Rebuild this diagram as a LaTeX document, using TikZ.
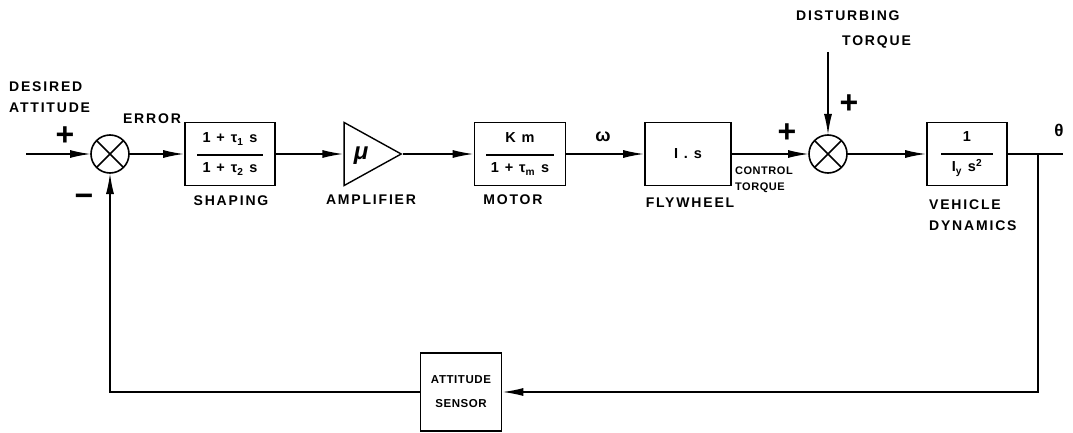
\documentclass[tikz,border=0pt]{standalone}
\usepackage{fontspec}
\setmainfont[LetterSpace=13]{Liberation Sans}
\newfontfamily\narrowfont[LetterSpace=5]{Liberation Sans}
\usetikzlibrary{arrows.meta, shapes.geometric, positioning}

% fraction inside a block: width of bar, numerator, denominator
\newcommand{\blkfrac}[3]{#2\\[-4pt]\rule{#1}{1.6pt}\\[0pt]#3}

\begin{document}
\begin{tikzpicture}[x=1pt, y=-1pt, line width=1.6pt,
  block/.style={draw, minimum height=63pt, inner sep=2pt, align=center, font=\fontsize{14.5}{17}\selectfont\bfseries},
  sumjn/.style={draw, circle, minimum size=38pt, inner sep=0pt, outer sep=0pt},
  amp/.style={draw, isosceles triangle, isosceles triangle stretches, minimum height=57pt, minimum width=63pt, inner sep=0pt, line width=1.4pt},
  lbl/.style={font=\fontsize{14}{21}\selectfont\bfseries},
  smlbl/.style={font=\narrowfont\fontsize{11}{16}\selectfont\bfseries},
  sign/.style={font=\fontsize{32}{32}\selectfont\bfseries, inner sep=0pt},
  sig/.style={-{Latex[length=21pt,width=8pt]}},
]
\useasboundingbox (0,0) rectangle (1073,433);

% Forward path
\coordinate (in) at (26,154);
\node[sumjn] (s1) at (110,154) {};
\draw (s1.north east) -- (s1.south west) (s1.north west) -- (s1.south east);
\node[block, minimum width=90pt] (shaping) at (230,154)
  {\blkfrac{66pt}{1 + τ\textsubscript{1} s}{1 + τ\textsubscript{2} s}};
\node[amp, anchor=apex] (amp) at (403,154) {};
\node[font=\fontsize{24}{24}\selectfont\bfseries\itshape] (mu) at (361,156) {μ};
\node[block, minimum width=91pt] (motor) at (520,154)
  {\blkfrac{68pt}{K m}{1 + τ\textsubscript{m} s}};
\node[block, minimum width=86pt] (fly) at (688,154) {I . s};
\node[sumjn] (s2) at (828,154) {};
\draw (s2.north east) -- (s2.south west) (s2.north west) -- (s2.south east);
\coordinate (dist) at (828,52);
\node[block, minimum width=80pt] (veh) at (967,154)
  {\blkfrac{52pt}{1}{I\textsubscript{y} s\textsuperscript{2}}};
\coordinate (tap) at (1038,154);
\coordinate (out) at (1063,154);

% Feedback path
\node[block, minimum width=81pt, minimum height=78pt, font=\narrowfont\fontsize{11.5}{24}\selectfont\bfseries] (sensor) at (461,392) {ATTITUDE\\SENSOR};

% Connectors
\draw[sig] (in) -- (s1);
\draw[sig] (s1) -- (shaping);
\draw[sig] (shaping) -- (amp);
\draw[sig] (amp.apex) -- (motor);
\draw[sig] (motor) -- (fly);
\draw[sig] (fly) -- (s2);
\draw[sig] (dist) -- (s2);
\draw[sig] (s2) -- (veh);
\draw (veh) -- (out);
\draw[sig] (tap) |- (sensor);
\draw[sig] (sensor) -| (s1);

% Labels
\node[lbl, anchor=west, align=left] (desired) at (5,97) {DESIRED\\ATTITUDE};
\node[sign] (p1) at (65,136) {+};
\node[sign] (m1) at (84,200) {−};
\node[lbl] (err) at (152,119) {ERROR};
\node[lbl] (shlbl) at (231,201) {SHAPING};
\node[lbl] (amplbl) at (371,200) {AMPLIFIER};
\node[lbl] (motlbl) at (513,200) {MOTOR};
\node[lbl] (flylbl) at (690,203) {FLYWHEEL};
\node[font=\fontsize{18}{18}\selectfont\bfseries] (omega) at (603,137) {ω};
\node[smlbl, anchor=west, align=left] (ctrl) at (731,180) {CONTROL\\TORQUE};
\node[sign] (p2) at (787,133) {+};
\node[sign] (p3) at (849,104) {+};
\node[lbl, anchor=west, align=left] (distlbl) at (792,29) {DISTURBING\\[4pt]\hspace*{46pt}TORQUE};
\node[lbl, anchor=west, align=left] (vehlbl) at (925,215) {VEHICLE\\DYNAMICS};
\node[font=\fontsize{17}{17}\selectfont\bfseries] (theta) at (1059,130) {θ};
\end{tikzpicture}
\end{document}
